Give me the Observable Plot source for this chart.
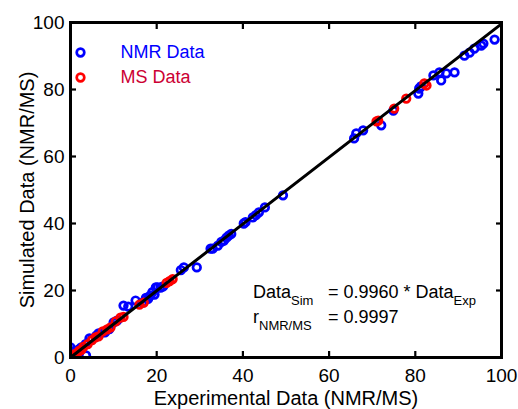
<!DOCTYPE html>
<html>
<head>
<meta charset="utf-8">
<script src="https://cdn.jsdelivr.net/npm/d3@7"></script>
<script src="https://cdn.jsdelivr.net/npm/@observablehq/plot@0.6"></script>
<style>
  html, body { margin: 0; padding: 0; background: #fff; }
  #chart { width: 518px; height: 409px; }
</style>
</head>
<body>
<div id="chart"></div>
<script>
// ---- data ----
const nmrExp = [0, 0, 0.3, 0.5, 3.6, 1, 2, 2.5, 3.5, 4.4, 5, 6, 6.5, 7.4, 8, 9, 10, 10.8,
  12.3, 13.4, 15.1, 16.7, 17.5, 18, 18.5, 19, 19.5, 19.8, 20.2, 20.9, 21.5,
  25.6, 26.3, 29.3, 32.5, 33, 34.2, 35, 35.6, 36.2, 36.7, 37.3, 40.2, 40.6, 42.3, 43, 43.7, 45.1, 49.3,
  65.8, 66.3, 67.9, 72.1, 74.9, 80.7, 80.9, 81.3, 84.2, 85.6, 86, 87.2, 89.1, 91.4, 92.6, 93.7, 95.3, 95.8, 98.4];
const nmrSim = [2, 3, 1.5, 0.8, 0.6, 1.5, 2.5, 3, 4, 5.7, 5.5, 6.5, 7.2, 7.5, 7.5, 8.5, 10.5, 11,
  15.5, 15.2, 17, 16.4, 17.8, 17.5, 18.5, 19.5, 18.8, 20.9, 20.9, 20.9, 21.2,
  26.1, 26.9, 26.9, 32.5, 32.5, 33.4, 34.5, 34.9, 35.8, 36.4, 36.9, 40, 40.4, 41.8, 42.5, 43.3, 44.8, 48.4,
  65.4, 66.9, 67.8, 69.3, 73.7, 78.8, 80.3, 80.9, 84.2, 85.1, 82.7, 84.8, 85.1, 90.1, 91, 92.2, 93.1, 93.7, 94.9];
const msExp = [0, 0.3, 0.5, 1, 1.5, 2, 2.5, 3, 4, 5, 5.8, 6.5, 7.5, 8.5, 9.3, 10.5, 11.6, 12.3,
  16, 17, 22.3, 23, 23.7, 71, 71.4, 75.1, 77.9, 82.1, 82.6];
const msSim = [0, 0.3, 0.2, 1, 1.2, 2, 2.3, 3.2, 4, 5.2, 6, 6.3, 7.8, 8.4, 9, 10.8, 11.9, 12.1,
  15.8, 16.4, 22.3, 22.8, 23.4, 70.5, 70.7, 74.3, 77.3, 81.8, 81.2];
const xTicks = [0, 20, 40, 60, 80, 100];
const yTicks = [0, 20, 40, 60, 80, 100];
const fitSlope = 0.9960;
const fitR = 0.9997;
const seriesNames = ["NMR Data", "MS Data"];
const xLabel = "Experimental Data (NMR/MS)";
const yLabel = "Simulated Data (NMR/MS)";

const nmr = nmrExp.map((x, i) => ({x, y: nmrSim[i]}));
const ms = msExp.map((x, i) => ({x, y: msSim[i]}));
const fit = [0, 100].map(x => ({x, y: fitSlope * x}));

const BLUE = "#0000ff", RED = "#ff0000";
const FONT = "'Liberation Sans', Arial, Helvetica, sans-serif";
const R = 3.8, SW = 2.7;

const plot = Plot.plot({
  width: 518,
  height: 409,
  marginLeft: 70,
  marginRight: 17,
  marginTop: 22,
  marginBottom: 52,
  style: {fontFamily: FONT, fontSize: "19px", color: "#000", background: "#fff"},
  x: {domain: [0, 100]},
  y: {domain: [0, 100]},
  marks: [
    Plot.dot(nmr, {x: "x", y: "y", r: R, stroke: BLUE, strokeWidth: SW, fill: "none", clip: true}),
    Plot.dot(ms, {x: "x", y: "y", r: R, stroke: RED, strokeWidth: SW, fill: "none", clip: true}),
    Plot.line(fit, {x: "x", y: "y", stroke: "black", strokeWidth: 3}),
    Plot.axisX(xTicks, {anchor: "bottom", tickSize: 0, tickPadding: 11, label: null, fontSize: 19}),
    Plot.axisY(yTicks, {anchor: "left", tickSize: 0, tickPadding: 6, label: null, fontSize: 19}),
    Plot.axisX(xTicks, {anchor: "bottom", tickSize: -6, text: null, label: null, strokeWidth: 2.2}),
    Plot.axisX(xTicks, {anchor: "top", tickSize: -6, text: null, label: null, strokeWidth: 2.2}),
    Plot.axisY(yTicks, {anchor: "left", tickSize: -6, text: null, label: null, strokeWidth: 2.2}),
    Plot.axisY(yTicks, {anchor: "right", tickSize: -6, text: null, label: null, strokeWidth: 2.2}),
    Plot.frame({stroke: "black", strokeWidth: 3}),
    Plot.text([xLabel], {frameAnchor: "bottom", dy: 41, text: d => d, fontSize: 20, lineAnchor: "middle", textAnchor: "middle"}),
    Plot.text([yLabel], {frameAnchor: "left", dx: -43, text: d => d, fontSize: 20, rotate: -90, lineAnchor: "middle", textAnchor: "middle"}),
    // legend
    Plot.dot([seriesNames[0]], {frameAnchor: "top-left", dx: 10, dy: 30, r: R, stroke: BLUE, strokeWidth: SW, fill: "none"}),
    Plot.dot([seriesNames[1]], {frameAnchor: "top-left", dx: 10, dy: 55, r: R, stroke: RED, strokeWidth: SW, fill: "none"}),
    Plot.text([seriesNames[0]], {frameAnchor: "top-left", dx: 50, dy: 30, text: d => d, fill: BLUE, fontSize: 18, textAnchor: "start", lineAnchor: "middle"}),
    Plot.text([seriesNames[1]], {frameAnchor: "top-left", dx: 50, dy: 55, text: d => d, fill: "#cc0033", fontSize: 18, textAnchor: "start", lineAnchor: "middle"})
  ]
});

document.getElementById("chart").appendChild(plot);

// annotation with subscripts
const svg = d3.select(plot);
const ann = svg.append("g")
  .attr("font-family", FONT)
  .attr("font-size", 18)
  .attr("fill", "#000")
  .attr("text-anchor", "start");
function line(x1, x2, y, main, sub, rest, restSub) {
  const t1 = ann.append("text").attr("x", x1).attr("y", y);
  t1.append("tspan").text(main);
  t1.append("tspan").attr("font-size", 13).attr("dy", 7).text(sub);
  const t2 = ann.append("text").attr("x", x2).attr("y", y);
  t2.append("tspan").text(rest);
  if (restSub) t2.append("tspan").attr("font-size", 13).attr("dy", 7).text(restSub);
}
line(253, 328, 298, "Data", "Sim", "= " + fitSlope.toFixed(4) + " * Data", "Exp");
line(253, 328, 323, "r", "NMR/MS", "= " + fitR.toFixed(4), null);
</script>
</body>
</html>
